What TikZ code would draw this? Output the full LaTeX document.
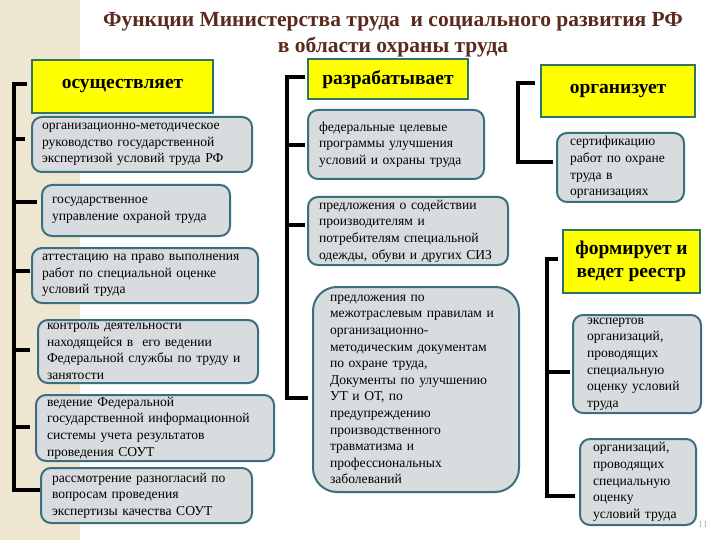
\documentclass[tikz,border=0pt]{standalone}
\usepackage{fontspec}
\setmainfont{Liberation Serif}
\definecolor{beige}{HTML}{EFE6D2}
\definecolor{titlec}{HTML}{5A2A1C}
\definecolor{hdrborder}{HTML}{2F7566}
\definecolor{gborder}{HTML}{3B6E7E}
\definecolor{gfill}{HTML}{D9DCDF}
\definecolor{yel}{HTML}{FFFF00}
\tikzset{
  hdr/.style={draw=hdrborder, line width=2pt, fill=yel, align=center, inner sep=0pt,
    font=\bfseries\fontsize{19.5}{23}\selectfont},
  gbox/.style={draw=gborder, line width=2pt, fill=gfill, rounded corners=10pt, align=left,
    inner ysep=0pt, font=\fontsize{13.6}{16.6}\selectfont},
  brk/.style={line width=3.5pt, black}
}
\begin{document}
\begin{tikzpicture}[x=1pt,y=-1pt]
\useasboundingbox (0,0) rectangle (720,540);
\fill[beige] (0,0) rectangle (80,540);
\fill[white] (80,0) rectangle (720,540);

\node[font=\bfseries\fontsize{21.5}{26}\selectfont, text=titlec, align=center] (title) at (393,35)
  {Функции Министерства труда \ и социального развития РФ\\в области охраны труда};

% headers
\node[hdr, minimum width=181pt, minimum height=53pt] (h1) at (122.5,86.5) {осуществляет};
\node[hdr, minimum width=160pt, minimum height=40pt] (h2) at (388,79.5) {разрабатывает};
\node[hdr, minimum width=154pt, minimum height=52pt] (h3) at (618,91) {организует};
\node[hdr, minimum width=137pt, minimum height=63pt] (h4) at (631.5,261.5) {формирует и\\ведет реестр};

% left column
\node[gbox, minimum height=55pt, inner xsep=10pt, text width=200pt] (b1) at (142,144.5)
  {организационно-методическое\\руководство государственной\\экспертизой условий труда РФ};
\node[gbox, minimum height=51pt, inner xsep=10pt, text width=168pt] (b2) at (136,210.5)
  {государственное\\управление охраной труда};
\node[gbox, minimum height=55pt, inner xsep=10pt, text width=206pt] (b3) at (145,275.5)
  {аттестацию на право выполнения\\работ по специальной оценке\\условий труда};
\node[gbox, minimum height=63pt, inner xsep=9pt, text width=202pt] (b4) at (148,351.5)
  {контроль деятельности\\находящейся в \ его ведении\\Федеральной службы по труду и\\занятости};
\node[gbox, minimum height=66pt, inner xsep=11pt, text width=216pt] (b5) at (155,428)
  {ведение Федеральной\\государственной информационной\\системы учета результатов\\проведения СОУТ};
\node[gbox, minimum height=55pt, inner xsep=11pt, text width=189pt] (b6) at (146.5,495.5)
  {рассмотрение разногласий по\\вопросам проведения\\экспертизы качества СОУТ};

% middle column
\node[gbox, minimum height=69pt, inner xsep=11pt, text width=154pt] (m1) at (396,144.5)
  {федеральные целевые\\программы улучшения\\условий и охраны труда};
\node[gbox, minimum height=68pt, inner xsep=11pt, text width=178pt] (m2) at (408,231)
  {предложения о содействии\\производителям и\\потребителям специальной\\одежды, обуви и других СИЗ};
\node[gbox, rounded corners=24pt, minimum height=205pt, inner xsep=17pt, text width=172pt] (m3) at (416,389.5)
  {предложения по\\межотраслевым правилам и\\организационно-\\методическим документам\\по охране труда,\\Документы по улучшению\\УТ и ОТ, по\\предупреждению\\производственного\\травматизма и\\профессиональных\\заболеваний};

% right column
\node[gbox, minimum height=69pt, inner xsep=13pt, text width=101pt] (r1) at (620.5,167.5)
  {сертификацию\\работ по охране\\труда в\\организациях};
\node[gbox, minimum height=98pt, inner xsep=14pt, text width=100pt] (r2) at (637,364)
  {экспертов\\организаций,\\проводящих\\специальную\\оценку условий\\труда};
\node[gbox, minimum height=86pt, inner xsep=13pt, text width=90pt] (r3) at (638,482)
  {организаций,\\проводящих\\специальную\\оценку\\условий труда};

% brackets
\draw[brk] (27,84) -- (14,84) -- (14,490) -- (40,490);
\draw[brk] (14,139) -- (25,139);
\draw[brk] (14,202) -- (37,202);
\draw[brk] (14,271) -- (30,271);
\draw[brk] (14,350) -- (30,350);
\draw[brk] (14,427) -- (30,427);

\draw[brk] (305,77) -- (287,77) -- (287,398) -- (308,398);
\draw[brk] (287,145) -- (305,145);
\draw[brk] (287,225) -- (305,225);

\draw[brk] (535,83) -- (518,83) -- (518,162) -- (553,162);

\draw[brk] (558,259) -- (547,259) -- (547,496) -- (575,496);
\draw[brk] (547,372) -- (570,372);

\node[text=black!30, font=\fontsize{10}{10}\selectfont] (pg) at (703,524) {11};
\end{tikzpicture}
\end{document}
